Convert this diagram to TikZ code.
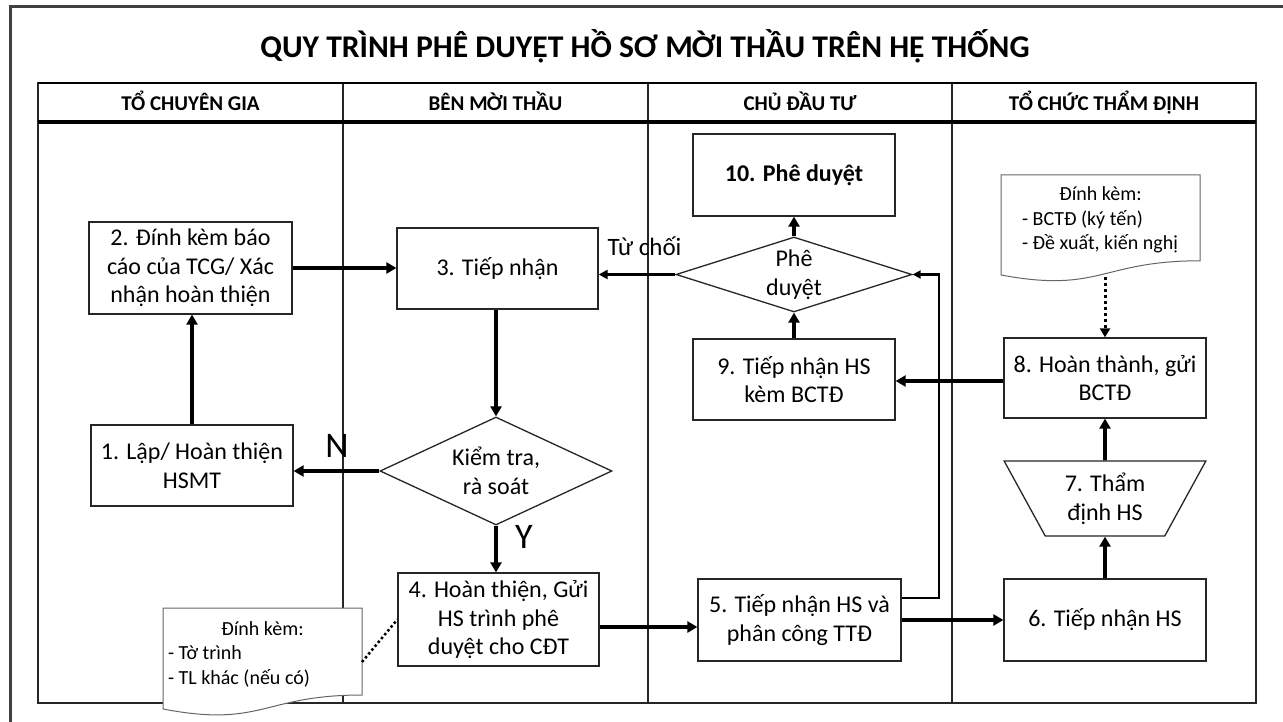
\documentclass[tikz,border=0pt]{standalone}
\usepackage{fontspec}
\setmainfont{Carlito}
\usetikzlibrary{arrows.meta,shapes.geometric,calc}
\newcommand{\bxf}{\fontsize{24pt}{28.5pt}\selectfont}
\newcommand{\dcf}{\fontsize{20pt}{24.5pt}\selectfont}
\newcommand{\hdf}{\fontsize{21pt}{25pt}\selectfont\bfseries}
\newcommand{\ttf}{\fontsize{31.6pt}{38pt}\selectfont\bfseries}
\begin{document}
\begin{tikzpicture}[x=1pt,y=-1pt,
  box/.style={draw=black!85, line width=1.3pt, fill=white, minimum width=202pt, align=center, font=\bxf, inner sep=2pt},
  dia/.style={diamond, draw=black!85, line width=1.3pt, fill=white, align=center, font=\bxf, inner sep=0pt},
  trap/.style={trapezium, shape border rotate=180, trapezium stretches=true, trapezium left angle=61.6, trapezium right angle=61.6, draw=black!85, line width=1.3pt, fill=white, align=center, font=\bxf, minimum width=202pt, minimum height=75pt, inner sep=0pt},
  docshape/.style={draw=black!60, line width=1pt, fill=white},
  doctext/.style={font=\dcf, align=left, inner sep=0pt},
  arr/.style={line width=3.6pt, -{Triangle[length=10pt,width=11pt]}},
  midarr/.style={line width=2.8pt, -{Triangle[length=9pt,width=9pt]}},
  thinarr/.style={line width=2.4pt, -{Triangle[length=8pt,width=8pt]}},
  dotarr/.style={line width=3pt, dash pattern=on 3pt off 3pt, -{Triangle[length=9pt,width=10pt]}},
  dotln/.style={line width=2.5pt, dash pattern=on 2.5pt off 2.5pt},
  lane/.style={line width=1.2pt, draw=black!85},
  hd/.style={font=\hdf, anchor=base, inner sep=0pt},
  big/.style={font=\fontsize{36pt}{40pt}\selectfont, inner sep=0pt},
  lbl/.style={font=\fontsize{25pt}{28pt}\selectfont, inner sep=0pt}
]
\useasboundingbox (0,0) rectangle (1283,722);
\fill[white] (0,0) rectangle (1283,722);
% outer frame
\draw[line width=3pt, black!75] (10,730) -- (10,7) -- (1290,7);
% title
\node[font=\ttf, anchor=base, inner sep=0pt] (title) at (645,58) {QUY TRÌNH PHÊ DUYỆT HỒ SƠ MỜI THẦU TRÊN HỆ THỐNG};
% table
\draw[lane] (38,83) rectangle (1256,703);
\foreach \x in {343,648,952} \draw[lane] (\x,83) -- (\x,703);
\draw[line width=2pt] (38,83) -- (1256,83);
\draw[line width=4.5pt] (38,122) -- (1256,122);
\node[hd] (h1) at (190.5,110.5) {TỔ CHUYÊN GIA};
\node[hd] (h2) at (495.5,110.5) {BÊN MỜI THẦU};
\node[hd] (h3) at (800,110.5) {CHỦ ĐẦU TƯ};
\node[hd] (h4) at (1104,110.5) {TỔ CHỨC THẨM ĐỊNH};
% documents
\draw[docshape] (1001,175) -- (1200,175) -- (1200,260.8) .. controls (1100.5,260.8) and (1100.5,293.5) .. (1001,275) -- cycle;
\node[doctext] (doc1) at (1100.5,220) {\makebox[157pt][c]{Đính kèm:}\\- BCTĐ (ký tến)\\- Đề xuất, kiến nghị};
\coordinate (doc1b) at (1105,277);
\draw[docshape] (163,608) -- (362,608) -- (362,695) .. controls (262.5,695) and (262.5,728) .. (163,709) -- cycle;
\node[doctext] (doc2) at (262.5,654) {\makebox[189pt][c]{Đính kèm:}\\- Tờ trình\\- TL khác (nếu có)};
\coordinate (doc2r) at (362,662);
% boxes
\node[box, minimum height=92pt, minimum width=203pt] (b2) at (190.5,268) {2. Đính kèm báo\\cáo của TCG/ Xác\\nhận hoàn thiện};
\node[box, minimum height=81pt] (b1) at (192,465.5) {1. Lập/ Hoàn thiện\\HSMT};
\node[box, minimum height=81pt, minimum width=201pt] (b3) at (497.5,268.5) {3. Tiếp nhận};
\node[dia, minimum width=232pt, minimum height=108pt, aspect=2.15] (d1) at (496,471) {Kiểm tra,\\rà soát};
\node[box, minimum height=93pt, minimum width=201pt] (b4) at (498.5,619.5) {4. Hoàn thiện, Gửi\\HS trình phê\\duyệt cho CĐT};
\node[box, minimum height=82pt, minimum width=203pt] (b5) at (799.5,620) {5. Tiếp nhận HS và\\phân công TTĐ};
\node[box, minimum height=82pt] (b6) at (1105,620) {6. Tiếp nhận HS};
\node[trap] (t7) at (1105,498.5) {7. Thẩm\\định HS};
\node[box, minimum height=80pt] (b8) at (1105,378) {8. Hoàn thành, gửi\\BCTĐ};
\node[box, minimum height=81pt] (b9) at (794,379.5) {9. Tiếp nhận HS\\kèm BCTĐ};
\node[dia, minimum width=236pt, minimum height=75pt, aspect=3.15] (d2) at (794,274.5) {Phê\\duyệt};
\node[box, minimum height=82pt] (b10) at (794,175) {\textbf{10. Phê duyệt}};
% connectors
\draw[arr] (b1.north) -- (b1.north |- b2.south);
\draw[arr] (b2.east) -- (b2.east -| b3.west);
\draw[arr] (b3.south -| d1.north) -- (d1.north);
\draw[arr] (d1.west) -- (d1.west -| b1.east);
\draw[arr] (d1.south) -- (d1.south |- b4.north);
\draw[arr] ($(b4.east)+(0,7.5)$) -- ($(b4.east -| b5.west)+(0,7.5)$);
\draw[arr] (b5.east) -- (b5.east -| b6.west);
\draw[arr] (b6.north) -- (t7.south);
\draw[arr] (t7.north) -- (b8.south);
\draw[dotarr] (doc1b) -- (doc1b |- b8.north);
\draw[arr] (b8.west |- 0,381) -- (b9.east |- 0,381);
\draw[arr] (b9.north) -- (d2.south);
\draw[arr] (d2.north) -- (b10.south);
\draw[midarr] (d2.west) -- (d2.west -| b3.east);
\coordinate (elbow) at (939,598);
\draw[thinarr] (b5.east |- elbow) -- (elbow) |- (d2.east);
\draw[dotln] (doc2r) -- (b4.west);
% labels
\node[big] (lN) at (337,445.5) {N};
\node[big] (lY) at (524,536.5) {Y};
\node[lbl] (lTC) at (644.5,246) {Từ chối};
\end{tikzpicture}
\end{document}
